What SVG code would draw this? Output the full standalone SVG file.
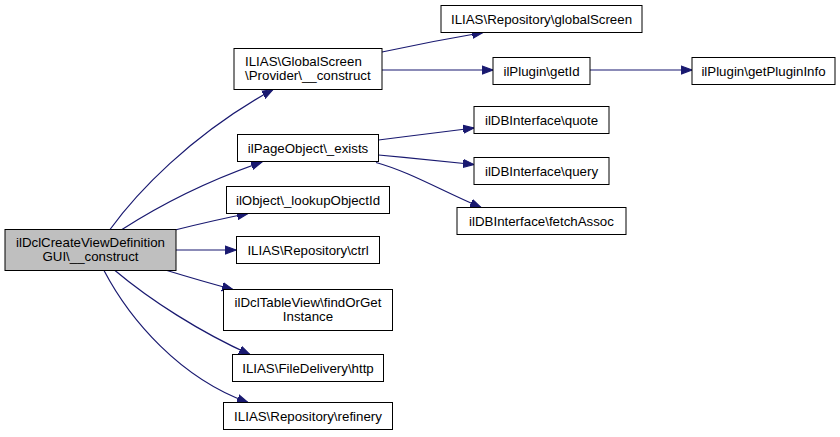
<svg xmlns="http://www.w3.org/2000/svg" width="840" height="437" viewBox="0 0 840 437">
<defs>
<style>
.n rect{fill:#fff;stroke:#000;stroke-width:1}
.n text{font-family:"Liberation Sans",Arial,Helvetica,sans-serif;font-size:13.3px;fill:#000;text-anchor:middle}
.n text.l{text-anchor:start}
#main rect{fill:#bfbfbf}
#edges path{fill:none;stroke:#191970;stroke-width:1.2;marker-end:url(#ah)}
</style>
<marker id="ah" markerUnits="userSpaceOnUse" markerWidth="12" markerHeight="10" viewBox="0 -4 11 8" refX="10" refY="0" orient="auto">
<path d="M0,-3.7 L10,0 L0,3.7 z" fill="#191970" stroke="#191970" stroke-width="1"/>
</marker>
</defs>
<rect width="840" height="437" fill="#fff"/>
<g id="edges">
<path d="M110,229.5 C135,195 190,135 273,89.5"/>
<path d="M122,229.5 C160,205 210,180 262,162"/>
<path d="M175,230 C195,225 220,219 248,213.5"/>
<path d="M176,250 L236,250"/>
<path d="M167,270.5 C185,276 205,282 233,289.5"/>
<path d="M115,270.5 C150,300 200,332 250,354.5"/>
<path d="M104,270.5 C130,320 180,378 248,402.5"/>
<path d="M382,52 C410,46 445,39 483,32.5"/>
<path d="M382,70 L493,70"/>
<path d="M590,70 L692,70"/>
<path d="M378.5,140 C410,136 440,132 474,128"/>
<path d="M378.5,155 C410,158 440,161 474,164.5"/>
<path d="M376,162.5 C410,172 440,190 481,207.5"/>
</g>
<g id="main" class="n"><rect x="5" y="229.5" width="171" height="41"/><text x="90.5" y="247">ilDclCreateViewDefinition</text><text x="90.5" y="261">GUI\__construct</text></g>
<g id="gsp" class="n"><rect x="234" y="48.5" width="148" height="41"/><text class="l" x="245" y="66">ILIAS\GlobalScreen</text><text class="l" x="245" y="80">\Provider\__construct</text></g>
<g id="pageobj" class="n"><rect x="237.5" y="134.5" width="141" height="27"/><text x="308" y="152.5">ilPageObject\_exists</text></g>
<g id="ilobject" class="n"><rect x="226.5" y="186.5" width="163" height="27"/><text x="308" y="204.5">ilObject\_lookupObjectId</text></g>
<g id="ctrl" class="n"><rect x="236.5" y="236.5" width="143" height="27"/><text x="308" y="254.5">ILIAS\Repository\ctrl</text></g>
<g id="dcltable" class="n"><rect x="223.5" y="289.5" width="169" height="41"/><text x="308" y="307">ilDclTableView\findOrGet</text><text x="308" y="321">Instance</text></g>
<g id="http" class="n"><rect x="232.5" y="354.5" width="151" height="27"/><text x="308" y="372.5">ILIAS\FileDelivery\http</text></g>
<g id="refinery" class="n"><rect x="223.5" y="402.5" width="169" height="27"/><text x="308" y="420.5">ILIAS\Repository\refinery</text></g>
<g id="globalscreen" class="n"><rect x="441" y="5.5" width="201" height="27"/><text x="541.5" y="23.5">ILIAS\Repository\globalScreen</text></g>
<g id="getid" class="n"><rect x="493" y="57.5" width="97" height="27"/><text x="541.5" y="75.5">ilPlugin\getId</text></g>
<g id="getplugininfo" class="n"><rect x="692" y="57.5" width="143" height="27"/><text x="763.5" y="75.5">ilPlugin\getPluginInfo</text></g>
<g id="quote" class="n"><rect x="474" y="106.5" width="135" height="27"/><text x="541.5" y="124.5">ilDBInterface\quote</text></g>
<g id="query" class="n"><rect x="474" y="157.5" width="135" height="27"/><text x="541.5" y="175.5">ilDBInterface\query</text></g>
<g id="fetchassoc" class="n"><rect x="457" y="207.5" width="169" height="27"/><text x="541.5" y="225.5">ilDBInterface\fetchAssoc</text></g>
</svg>
